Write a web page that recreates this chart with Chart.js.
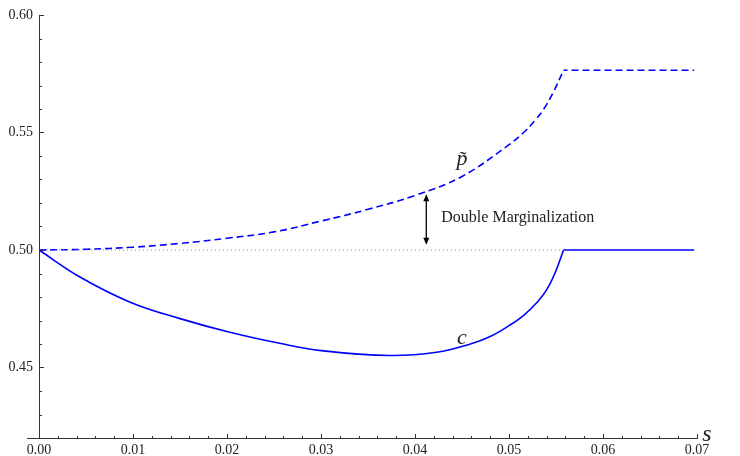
<!DOCTYPE html>
<html>
<head>
<meta charset="utf-8">
<script src="https://cdn.jsdelivr.net/npm/chart.js@4/dist/chart.umd.min.js"></script>
<style>
html,body{margin:0;padding:0;background:#fff;}
#wrap{width:740px;height:456px;position:relative;}
</style>
</head>
<body>
<div id="wrap"><canvas id="c"></canvas></div>
<script>
// ---- data ----
// p~ : rising part, then flat part after the kink
const pS      = [0, 0.005, 0.010, 0.015, 0.020, 0.025, 0.030, 0.035, 0.040, 0.045, 0.050, 0.0515, 0.0528, 0.0537, 0.0547, 0.0558];
const pTilde  = [0.5000, 0.5003, 0.5012, 0.5028, 0.5050, 0.5077, 0.5123, 0.5173, 0.5232, 0.5313, 0.5448, 0.5498, 0.5553, 0.5600, 0.5670, 0.5765];
const pFlatS  = [0.0558, 0.0697];
const pFlatV  = [0.5765, 0.5765];

// c : curved part, then flat part after the kink
const cS      = [0, 0.0044, 0.0097, 0.0150, 0.0203, 0.0256, 0.0300, 0.0373, 0.0423, 0.0459, 0.0480, 0.0500, 0.0515, 0.0530, 0.0540, 0.0549, 0.0558];
const cVals   = [0.5000, 0.4884, 0.4778, 0.4708, 0.4650, 0.4603, 0.4572, 0.4551, 0.4565, 0.4600, 0.4632, 0.4678, 0.4720, 0.4778, 0.4830, 0.4902, 0.5000];
const cFlatS  = [0.0558, 0.0697];
const cFlatV  = [0.5000, 0.5000];

// dotted reference line at 0.50
const refS   = [0, 0.0558];
const refVal = [0.5, 0.5];

const xTicks = [0, 0.01, 0.02, 0.03, 0.04, 0.05, 0.06, 0.07];
const yTicks = [0.45, 0.50, 0.55, 0.60];
const xRange = [0, 0.07];
const yRange = [0.42, 0.60];

// annotation anchors (data coordinates)
const arrowS = 0.0412, arrowFrom = 0.5237, arrowTo = 0.5022;
const dmLabel = {s: 0.0428, v: 0.5135, text: 'Double Marginalization'};
const pLabel  = {s: 0.0450, v: 0.5385, text: 'p\u0303'};
const cLabel  = {s: 0.0450, v: 0.4625, text: 'c'};
const axisLabel = 's';

const toXY = (xs, ys) => xs.map((x, i) => ({x: x, y: ys[i]}));

const overlay = {
  id: 'overlay',
  afterDraw(chart) {
    const ctx = chart.ctx, xs = chart.scales.x, ys = chart.scales.y;
    const x0 = xs.getPixelForValue(xRange[0]), x1 = xs.getPixelForValue(xRange[1]);
    const y0 = ys.getPixelForValue(yRange[0]), y1 = ys.getPixelForValue(yRange[1]);
    ctx.save();
    ctx.strokeStyle = '#333';
    ctx.lineWidth = 1;
    ctx.beginPath();
    ctx.moveTo(Math.round(x0) + 0.5, y1);
    ctx.lineTo(Math.round(x0) + 0.5, Math.round(y0) + 0.5);
    ctx.moveTo(x0 - 12, Math.round(y0) + 0.5);
    ctx.lineTo(x1 + 1, Math.round(y0) + 0.5);
    // x ticks (inward)
    for (let k = 0; k <= 35; k++) {
      const v = k * 0.002;
      const px = Math.round(xs.getPixelForValue(v)) + 0.5;
      const len = (k % 5 === 0) ? 4 : 2;
      ctx.moveTo(px, Math.round(y0));
      ctx.lineTo(px, Math.round(y0) - len);
    }
    // y ticks (inward)
    for (let k = 42; k <= 60; k++) {
      const v = k / 100;
      const py = Math.round(ys.getPixelForValue(v)) + 0.5;
      const len = (k % 5 === 0) ? 4 : 2;
      ctx.moveTo(Math.round(x0) + 1, py);
      ctx.lineTo(Math.round(x0) + 1 + len, py);
    }
    ctx.stroke();

    // double arrow
    const ax = xs.getPixelForValue(arrowS);
    const ay1 = ys.getPixelForValue(arrowFrom), ay2 = ys.getPixelForValue(arrowTo);
    ctx.strokeStyle = '#000'; ctx.fillStyle = '#000'; ctx.lineWidth = 1.3;
    ctx.beginPath(); ctx.moveTo(ax, ay1 + 4); ctx.lineTo(ax, ay2 - 4); ctx.stroke();
    ctx.beginPath(); ctx.moveTo(ax, ay1); ctx.lineTo(ax - 3, ay1 + 7); ctx.lineTo(ax + 3, ay1 + 7); ctx.closePath(); ctx.fill();
    ctx.beginPath(); ctx.moveTo(ax, ay2); ctx.lineTo(ax - 3, ay2 - 7); ctx.lineTo(ax + 3, ay2 - 7); ctx.closePath(); ctx.fill();

    // texts
    ctx.fillStyle = '#222';
    ctx.textBaseline = 'middle';
    ctx.textAlign = 'left';
    ctx.font = '16px "Liberation Serif"';
    ctx.fillText(dmLabel.text, xs.getPixelForValue(dmLabel.s), ys.getPixelForValue(dmLabel.v));
    ctx.textAlign = 'center';
    ctx.font = 'italic 22px "Liberation Serif"';
    ctx.fillText(pLabel.text, xs.getPixelForValue(pLabel.s), ys.getPixelForValue(pLabel.v));
    ctx.fillText(cLabel.text, xs.getPixelForValue(cLabel.s), ys.getPixelForValue(cLabel.v));
    ctx.font = 'italic 24px "Liberation Serif"';
    ctx.fillText(axisLabel, x1 + 10, y0 - 3);
    ctx.restore();
  }
};

const BLUE = '#0000ff';
new Chart(document.getElementById('c'), {
  type: 'scatter',
  data: {
    datasets: [
      { data: toXY(refS, refVal), showLine: true, borderColor: '#8a8a8a', borderWidth: 1, borderDash: [1, 3], pointRadius: 0, fill: false },
      { data: toXY(pS, pTilde), showLine: true, borderColor: BLUE, borderWidth: 1.6, borderDash: [7, 4], pointRadius: 0, tension: 0.4, fill: false },
      { data: toXY(pFlatS, pFlatV), showLine: true, borderColor: BLUE, borderWidth: 1.6, borderDash: [7, 4], borderDashOffset: 3, pointRadius: 0, fill: false },
      { data: toXY(cS, cVals), showLine: true, borderColor: BLUE, borderWidth: 1.6, pointRadius: 0, tension: 0.4, fill: false },
      { data: toXY(cFlatS, cFlatV), showLine: true, borderColor: BLUE, borderWidth: 1.6, pointRadius: 0, fill: false }
    ]
  },
  options: {
    responsive: true,
    maintainAspectRatio: false,
    animation: false,
    events: [],
    layout: { padding: { top: 15, right: 43, left: 0, bottom: 0 } },
    plugins: { legend: { display: false }, tooltip: { enabled: false } },
    scales: {
      x: {
        type: 'linear', min: xRange[0], max: xRange[1],
        grid: { display: false, drawTicks: false },
        border: { display: false },
        afterBuildTicks: s => { s.ticks = xTicks.map(v => ({value: v})); },
        afterFit: s => { s.height = 18; },
        ticks: { padding: 4, color: '#222', maxRotation: 0, font: { family: 'Liberation Serif', size: 14 }, callback: v => v.toFixed(2) }
      },
      y: {
        type: 'linear', min: yRange[0], max: yRange[1],
        grid: { display: false, drawTicks: false },
        border: { display: false },
        afterBuildTicks: s => { s.ticks = yTicks.map(v => ({value: v})); },
        afterFit: s => { s.width = 39; },
        ticks: { padding: 6, color: '#222', font: { family: 'Liberation Serif', size: 14 }, callback: v => v.toFixed(2) }
      }
    }
  },
  plugins: [overlay]
});
</script>
</body>
</html>
